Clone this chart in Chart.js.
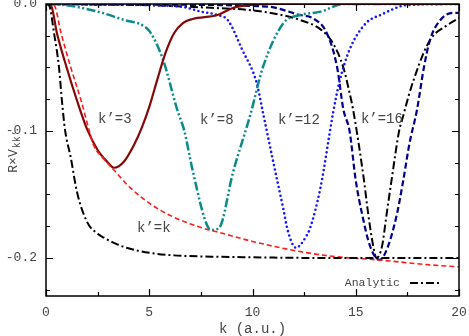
<!DOCTYPE html>
<html>
<head>
<meta charset="utf-8">
<script src="https://cdn.jsdelivr.net/npm/chart.js@4.4.1/dist/chart.umd.min.js"></script>
<style>
  html, body { margin: 0; padding: 0; background: #fff; }
  canvas { display: block; }
</style>
</head>
<body>
<canvas id="chart" width="469" height="336"></canvas>
<script>
// values (k in a.u., value of R x V_kk')
const kAnaKK = [0, 0.15, 0.39, 0.63, 0.77, 0.92, 1.2, 1.5, 2.0, 2.5, 2.8, 3.4, 3.9, 5, 6.2, 8, 10, 12.8, 16, 20];
const vAnaKK = [0, -0.001, -0.023, -0.05, -0.076, -0.099, -0.121, -0.148, -0.172, -0.181, -0.184, -0.189, -0.192, -0.196, -0.198, -0.199, -0.1995, -0.2, -0.2, -0.2];

const kNumKK = [0, 0.39, 0.73, 1.2, 1.7, 2.08, 2.3, 2.8, 3.3, 4.1, 5.1, 6.2, 7.5, 8.4, 10, 12.3, 14, 16.1, 18.6, 20];
const vNumKK = [0, -0.001, -0.023, -0.05, -0.076, -0.099, -0.111, -0.122, -0.131, -0.145, -0.158, -0.168, -0.176, -0.18, -0.187, -0.195, -0.199, -0.2016, -0.2055, -0.207];

const k3 = [0, 0.24, 0.53, 1.0, 1.5, 2.0, 2.5, 2.95, 3.3, 3.78, 4.26, 4.65, 5.04, 5.4, 5.8, 6.2, 6.63, 7.1, 8.3, 9.05, 9.9, 11, 14, 20];
const v3 = [0, -0.001, -0.023, -0.05, -0.076, -0.099, -0.115, -0.124, -0.129, -0.124, -0.111, -0.097, -0.079, -0.059, -0.038, -0.023, -0.015, -0.0118, -0.0087, -0.0031, -0.0008, 0, 0, 0];

const k8 = [0, 1.0, 2.5, 3.8, 4.7, 5.04, 5.67, 6.35, 6.7, 7.1, 7.85, 8.05, 8.4, 9.05, 9.9, 10.5, 11.5, 12.3, 13.3, 14.4, 20];
const v8 = [0, -0.001, -0.006, -0.0126, -0.017, -0.022, -0.044, -0.083, -0.1, -0.131, -0.176, -0.178, -0.176, -0.133, -0.087, -0.05, -0.015, -0.0087, -0.006, 0, 0];

const k12 = [0, 3, 6.5, 7.5, 8.3, 8.8, 9.5, 10.2, 10.5, 11.0, 11.5, 11.7, 12.1, 12.6, 12.8, 13.3, 13.9, 14.2, 14.7, 15.5, 16.2, 17.5, 20];
const v12 = [0, -0.0005, -0.002, -0.006, -0.0087, -0.0126, -0.036, -0.062, -0.085, -0.124, -0.162, -0.178, -0.192, -0.183, -0.176, -0.144, -0.086, -0.062, -0.036, -0.015, -0.0087, -0.0008, 0];

const k16 = [0, 5, 10.7, 12.3, 12.9, 13.6, 14.1, 14.4, 14.7, 15.0, 15.3, 15.7, 16.15, 16.56, 17.0, 17.3, 17.6, 17.97, 18.3, 18.6, 19.1, 19.7, 20];
const v16 = [0, -0.0005, -0.002, -0.0087, -0.011, -0.023, -0.05, -0.083, -0.1, -0.139, -0.165, -0.191, -0.2016, -0.191, -0.165, -0.139, -0.11, -0.083, -0.05, -0.028, -0.0126, -0.007, -0.007];

const kAna16 = [0, 5, 8, 10, 11.5, 12.3, 13.3, 13.9, 14.4, 14.7, 14.87, 15.4, 15.6, 15.85, 16.0, 16.27, 16.5, 16.75, 17.1, 17.3, 17.55, 17.8, 18.3, 18.7, 19.4, 20];
const vAna16 = [0, -0.001, -0.003, -0.005, -0.009, -0.0126, -0.02, -0.031, -0.05, -0.07, -0.083, -0.139, -0.165, -0.191, -0.2, -0.191, -0.165, -0.137, -0.1, -0.088, -0.073, -0.06, -0.038, -0.026, -0.017, -0.011];

const xTickValues = [0, 2.5, 5, 7.5, 10, 12.5, 15, 17.5, 20];
const yTickValues = [-0.225, -0.2, -0.175, -0.15, -0.125, -0.1, -0.075, -0.05, -0.025, 0];

const curveLabels = ['k\u2019=3', 'k\u2019=8', 'k\u2019=12', 'k\u2019=16', 'k\u2019=k'];

const pts = (ks, vs) => ks.map((k, i) => ({ x: k, y: vs[i] }));
const MONO = '"Liberation Mono", "DejaVu Sans Mono", monospace';
const TEXT = '#444';

const isMajorX = v => Math.abs(v % 5) < 1e-9;
const isMajorY = v => Math.abs(v * 10 - Math.round(v * 10)) < 1e-9;

// where the in-plot labels sit, in data coordinates
const labelSpots = [
  { k: 2.52, v: -0.0906 },
  { k: 7.46, v: -0.0913 },
  { k: 11.23, v: -0.0913 },
  { k: 15.25, v: -0.0906 },
  { k: 4.41, v: -0.1764 }
];

const decor = {
  id: 'decor',
  afterDatasetsDraw(chart) {
    const { ctx, chartArea: a, scales: { x, y } } = chart;
    ctx.save();
    // frame
    ctx.strokeStyle = '#000';
    ctx.lineWidth = 1.5;
    ctx.strokeRect(a.left, a.top, a.right - a.left, a.bottom - a.top);
    // inward ticks on all four sides
    ctx.lineWidth = 1.2;
    ctx.beginPath();
    xTickValues.forEach(v => {
      const px = Math.round(x.getPixelForValue(v)) + 0.5;
      const len = isMajorX(v) ? 7 : 4;
      ctx.moveTo(px, a.bottom); ctx.lineTo(px, a.bottom - len);
      ctx.moveTo(px, a.top); ctx.lineTo(px, a.top + len);
    });
    yTickValues.forEach(v => {
      const py = Math.round(y.getPixelForValue(v)) + 0.5;
      const len = isMajorY(v) ? 7 : 4;
      ctx.moveTo(a.left, py); ctx.lineTo(a.left + len, py);
      ctx.moveTo(a.right, py); ctx.lineTo(a.right - len, py);
    });
    ctx.stroke();

    // curve labels
    ctx.fillStyle = TEXT;
    ctx.font = '14px ' + MONO;
    ctx.textAlign = 'left';
    ctx.textBaseline = 'middle';
    curveLabels.forEach((t, i) => {
      ctx.fillText(t, x.getPixelForValue(labelSpots[i].k), y.getPixelForValue(labelSpots[i].v));
    });
    ctx.restore();
  },
  afterDraw(chart) {
    const { ctx, chartArea: a } = chart;
    ctx.save();
    // legend (text then line sample, bottom right inside the frame)
    const ds = chart.data.datasets.find(d => d.label === 'Analytic');
    const ly = a.bottom - 13;
    ctx.fillStyle = TEXT;
    ctx.font = '11.5px ' + MONO;
    ctx.textAlign = 'right';
    ctx.textBaseline = 'middle';
    ctx.fillText(ds.label, a.right - 59, ly);
    ctx.strokeStyle = ds.borderColor;
    ctx.lineWidth = ds.borderWidth;
    ctx.setLineDash(ds.borderDash);
    ctx.beginPath();
    ctx.moveTo(a.right - 49, ly);
    ctx.lineTo(a.right - 19, ly);
    ctx.stroke();
    ctx.setLineDash([]);

    // x title
    ctx.textAlign = 'center';
    ctx.font = '14px ' + MONO;
    ctx.fillText('k (a.u.)', (a.left + a.right) / 2, 329);

    // y title: R×V with subscript kk'
    ctx.translate(17, 152);
    ctx.rotate(-Math.PI / 2);
    ctx.textAlign = 'left';
    ctx.textBaseline = 'alphabetic';
    ctx.font = '13px ' + MONO;
    const main = 'R\u00d7V';
    const sub = 'kk\u2019';
    const mw = ctx.measureText(main).width;
    ctx.font = '10px ' + MONO;
    const sw = ctx.measureText(sub).width;
    const x0 = -(mw + sw) / 2;
    ctx.font = '13px ' + MONO;
    ctx.fillText(main, x0, 0);
    ctx.font = '10px ' + MONO;
    ctx.fillText(sub, x0 + mw + 1, 3);
    ctx.restore();
  }
};

const line = (label, data, color, width, dash, extra) => Object.assign({
  label, data, borderColor: color, borderWidth: width, borderDash: dash,
  pointRadius: 0, fill: false, cubicInterpolationMode: 'monotone'
}, extra || {});

new Chart(document.getElementById('chart'), {
  type: 'line',
  data: {
    datasets: [
      line('Analytic', pts(kAnaKK, vAnaKK), '#000', 2, [8, 3, 2, 3]),
      line('k\u2019=k', pts(kNumKK, vNumKK), '#ff1a1a', 1.6, [5, 3]),
      line('k\u2019=3', pts(k3, v3), '#850808', 2.2, []),
      line('k\u2019=8', pts(k8, v8), '#0b8a8a', 2.5, [9, 2.5, 2, 2.5, 2, 2.5]),
      line('k\u2019=12', pts(k12, v12), '#1414ff', 2.6, [0, 4.5], { borderCapStyle: 'round' }),
      line('k\u2019=16', pts(k16, v16), '#00008b', 2.2, [6, 3]),
      line('Analytic k\u2019=16', pts(kAna16, vAna16), '#000', 2, [8, 3, 2, 3])
    ]
  },
  options: {
    responsive: false,
    animation: false,
    devicePixelRatio: 1,
    layout: { padding: { top: 4, right: 10, left: 0, bottom: 0 } },
    plugins: { legend: { display: false }, tooltip: { enabled: false } },
    scales: {
      x: {
        type: 'linear', min: 0, max: 20,
        afterBuildTicks: s => { s.ticks = xTickValues.map(v => ({ value: v })); },
        afterFit: s => { s.height = 40; s.paddingLeft = 0; s.paddingRight = 0; },
        grid: { display: false, drawTicks: false },
        border: { display: false },
        ticks: {
          autoSkip: false, maxRotation: 0, padding: 9,
          color: TEXT, font: { family: MONO, size: 13 },
          callback: v => isMajorX(v) ? String(v) : ''
        }
      },
      y: {
        type: 'linear', min: -0.23, max: 0,
        afterBuildTicks: s => { s.ticks = yTickValues.map(v => ({ value: v })); },
        afterFit: s => { s.width = 46; s.paddingTop = 0; s.paddingBottom = 0; },
        grid: { display: false, drawTicks: false },
        border: { display: false },
        ticks: {
          autoSkip: false, padding: 9,
          color: TEXT, font: { family: MONO, size: 13 },
          callback: v => isMajorY(v) ? v.toFixed(1) : ''
        }
      }
    }
  },
  plugins: [decor]
});
</script>
</body>
</html>
